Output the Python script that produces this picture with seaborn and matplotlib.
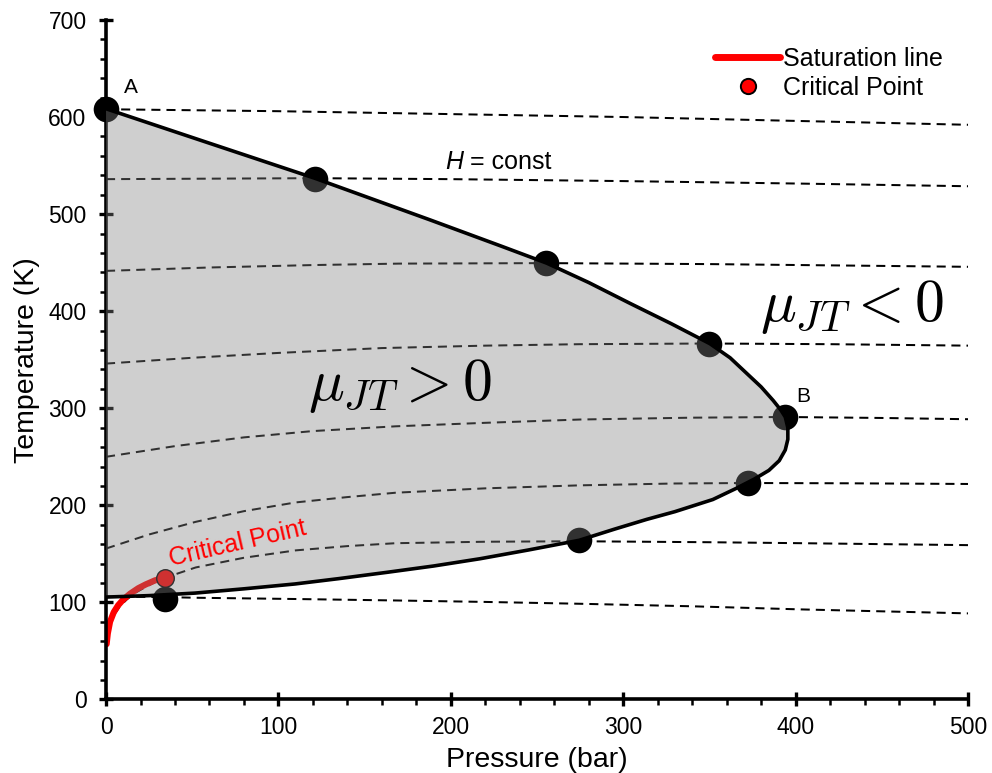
import matplotlib
matplotlib.use("Agg")
import matplotlib.pyplot as plt
from matplotlib.lines import Line2D
import seaborn as sns

# ---------------- data ----------------
# Inversion curve (P in bar, T in K)
inv_P = [0, 60, 121, 188, 230, 255.6, 280, 304, 328, 350.3, 362, 371.6, 380, 387,
         391.5, 394, 395.5, 395.5, 394, 390.5, 384.5, 376, 365, 352, 330, 313.6, 295,
         274.5, 245, 217, 190, 163, 135, 109.6, 80, 51.6, 25, 0]
inv_T = [608.5, 573, 537, 494, 466.5, 449.5, 429.5, 408, 387, 366.5, 352, 336, 322, 308,
         298, 291, 280, 268, 257, 246, 236, 227, 217, 206, 193.5, 185.5, 175.5,
         164, 154, 145, 137.5, 131, 124.5, 119, 114, 109.6, 107, 105.5]

# Isenthalps (dashed)
h1_P = [0, 100, 200, 300, 400, 500]
h1_T = [608, 606, 603, 600, 596, 592]
h2_P = [0, 60, 121, 200, 300, 400, 500]
h2_T = [536, 536.5, 537, 536, 534, 531.5, 528.7]
h3_P = [0, 60, 120, 170, 255, 350, 430, 500]
h3_T = [441.5, 445, 447.5, 449, 449.5, 448.5, 447, 445.7]
h4_P = [0, 50, 100, 160, 220, 275, 350, 420, 500]
h4_T = [346, 352, 357, 362, 364.5, 366, 366.7, 366, 364.5]
h5_P = [0, 40, 80, 120, 168, 220, 275, 340, 394, 450, 500]
h5_T = [250, 261, 270, 276.5, 281.4, 285, 288.4, 290.3, 291, 290, 288.7]
h6_P = [0, 25, 52, 80, 110, 140, 168, 220, 275, 330, 372, 430, 500]
h6_T = [155.5, 170, 183, 194, 203, 208.5, 213, 217.5, 220.6, 222.5, 223, 222.7, 222]
h7_P = [0.5, 1.5, 3, 5, 8, 12, 17, 22, 28, 34.2, 52, 80, 110, 140, 168, 220, 274,
        350, 403, 500]
h7_T = [58, 70, 80, 88, 96, 103, 110, 115, 120.5, 125.4, 136, 146, 153.6, 158, 161,
        162.5, 163, 162, 161, 159]
h8_P = [0, 34, 52, 110, 168, 220, 275, 340, 403, 500]
h8_T = [106, 105.5, 104.8, 103.5, 102, 100.5, 98.6, 96, 92.8, 88.7]
isenthalps = [(h1_P, h1_T), (h2_P, h2_T), (h3_P, h3_T), (h4_P, h4_T),
              (h5_P, h5_T), (h6_P, h6_T), (h7_P, h7_T), (h8_P, h8_T)]

# Maxima of isenthalps on the inversion curve
pts_P = [0, 121, 255, 350, 394, 372.5, 274.5, 34]
pts_T = [608, 536.5, 449.5, 366.5, 291, 223.5, 164, 104]

# Saturation line and critical point
sat_P = [0.3, 1, 2.3, 4.5, 7, 10, 14, 18.7, 23, 28.4, 34.2]
sat_T = [57, 68, 80, 90, 97, 103, 109, 114.6, 118.5, 122.7, 125.4]
cp_P = [34.2]
cp_T = [125.4]

xticks = [0, 100, 200, 300, 400, 500]
yticks = [0, 100, 200, 300, 400, 500, 600, 700]

# ---------------- style ----------------
sns.set_theme(style="ticks")
plt.rcParams['font.family'] = ['Liberation Sans', 'DejaVu Sans']
plt.rcParams['mathtext.fontset'] = 'cm'
for k in ['text.color', 'axes.labelcolor', 'xtick.color', 'ytick.color',
          'xtick.labelcolor', 'ytick.labelcolor']:
    plt.rcParams[k] = 'black'

fig = plt.figure(figsize=(9.92, 7.73), dpi=100)
ax = fig.add_axes([0.1069, 0.0951, 0.8689, 0.8791])

dash = (0, (4.5, 3))
for hp, ht in isenthalps:
    sns.lineplot(x=hp, y=ht, ax=ax, color='black', lw=1.45, sort=False,
                 estimator=None, zorder=1)
    ax.lines[-1].set_linestyle(dash)

sns.lineplot(x=sat_P, y=sat_T, ax=ax, color='#ff0000', lw=4.5, sort=False,
             estimator=None, zorder=2, solid_capstyle='round')
ax.lines[-1].set_solid_joinstyle('round')

sns.scatterplot(x=pts_P, y=pts_T, ax=ax, color='black', s=340, linewidth=0,
                zorder=2, clip_on=False)
sns.scatterplot(x=cp_P, y=cp_T, ax=ax, color='#ff0000', s=160,
                edgecolor='black', linewidth=1.0, zorder=2)

# shaded region (drawn over markers, semi-transparent)
ax.fill(inv_P, inv_T, color=(131/255, 131/255, 131/255), alpha=0.38, lw=0, zorder=3)
sns.lineplot(x=inv_P, y=inv_T, ax=ax, color='black', lw=2.6, sort=False,
             estimator=None, zorder=4)
ax.lines[-1].set_solid_joinstyle('round')

# texts
ax.text(14.5, 630, 'A', fontsize=15, ha='center', va='center')
ax.text(404.5, 312, 'B', fontsize=15, ha='center', va='center')
t1 = ax.text(196.5, 554, 'H', fontsize=18, style='italic', ha='left', va='center')
ax.annotate(' = const', xy=(1, 0), xycoords=t1, fontsize=18, ha='left', va='bottom')
ax.text(170.5, 323, r'$\mu_{JT} > 0$', fontsize=43, ha='center', va='center')
ax.text(433, 404, r'$\mu_{JT} < 0$', fontsize=43, ha='center', va='center')
ax.text(76.6, 161, 'Critical Point', fontsize=18, color='#ff0000', rotation=13,
        ha='center', va='center', rotation_mode='anchor')

# axes
ax.set_xlim(0, 500)
ax.set_ylim(0, 700)
ax.set_xticks(xticks)
ax.set_yticks(yticks)
ax.set_xticks(range(0, 501, 20), minor=True)
ax.set_yticks(range(0, 701, 20), minor=True)
ax.tick_params(which='major', direction='inout', length=10, width=2.4,
               labelsize=16.5, color='black')
ax.tick_params(axis='y', which='major', pad=9)
ax.tick_params(axis='x', which='major', pad=7)
ax.tick_params(which='minor', direction='out', length=4.5, width=1.8, color='black')
ax.set_xlabel('Pressure (bar)', fontsize=20.5, labelpad=6)
ax.set_ylabel('Temperature (K)', fontsize=20.5, labelpad=6)
for s in ['top', 'right']:
    ax.spines[s].set_visible(False)
for s in ['left', 'bottom']:
    ax.spines[s].set_linewidth(2.6)
    ax.spines[s].set_color('black')

handles = [Line2D([0], [0], color='#ff0000', lw=5, solid_capstyle='round'),
           Line2D([0], [0], color='none', marker='o', markerfacecolor='#ff0000',
                  markeredgecolor='black', markersize=11, markeredgewidth=1.4)]
ax.legend(handles, ['Saturation line', 'Critical Point'], loc='upper right',
          bbox_to_anchor=(0.982, 0.975), frameon=False, fontsize=18,
          handlelength=2.6, handletextpad=0.1, labelspacing=0.2, borderaxespad=0)

fig.savefig('out.png', dpi=100)
